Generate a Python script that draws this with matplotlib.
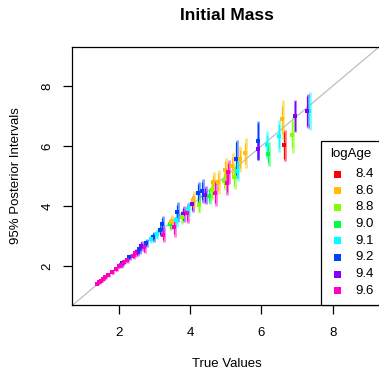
#!/usr/bin/env python3
"""Posterior intervals vs. true initial mass, coloured by logAge."""
import matplotlib
matplotlib.use('Agg')
import matplotlib.pyplot as plt
from matplotlib.patches import Rectangle

plt.rcParams['font.family'] = ['Liberation Sans', 'DejaVu Sans']

# logAge groups and their colours (R rainbow(8))
age_labels = ['8.4', '8.6', '8.8', '9.0', '9.1', '9.2', '9.4', '9.6']
age_colors = ['#FF0000', '#FFBF00', '#80FF00', '#00FF40',
              '#00FFFF', '#0040FF', '#8000FF', '#FF00BF']

# one entry per star
true_mass = [7.35, 7.29, 6.93, 6.86, 6.59, 6.63, 6.48, 6.19, 6.15, 5.89,
             5.89, 5.54, 5.39, 5.29, 5.17, 5.31, 5.23, 4.99, 4.95, 5.02,
             4.78, 4.69, 4.65, 4.53, 4.60, 4.34, 4.42, 4.23, 4.06, 4.24,
             4.09, 3.91, 3.80, 3.64, 3.76, 3.94, 3.55, 3.43, 3.46, 3.21,
             3.15, 3.23, 3.06, 2.96, 2.89, 2.76, 2.71, 2.62, 2.56, 2.51,
             2.45, 2.39, 2.29, 2.22, 2.08, 2.01, 1.91, 1.80, 1.69, 1.56,
             1.45, 1.39, 5.06, 1.62, 1.50, 2.15, 2.05, 3.60]
post_median = [7.17, 7.17, 6.99, 6.37, 6.90, 6.03, 6.33, 5.73, 6.03, 6.18,
               5.90, 5.76, 5.57, 5.57, 5.34, 5.18, 4.96, 5.20, 4.85, 4.76,
               4.79, 4.44, 4.79, 4.34, 4.53, 4.51, 4.37, 4.42, 4.06, 4.03,
               4.19, 3.76, 3.74, 3.80, 3.64, 3.91, 3.31, 3.40, 3.48, 3.39,
               3.20, 3.03, 3.06, 2.98, 2.89, 2.77, 2.62, 2.68, 2.56, 2.48,
               2.43, 2.34, 2.31, 2.19, 2.09, 2.00, 1.90, 1.79, 1.70, 1.56,
               1.46, 1.41, 5.12, 1.62, 1.51, 2.14, 2.03, 3.55]
half95 = [0.63, 0.57, 0.53, 0.60, 0.65, 0.52, 0.53, 0.40, 0.47, 0.65,
          0.37, 0.50, 0.43, 0.63, 0.43, 0.35, 0.40, 0.40, 0.33, 0.40,
          0.40, 0.43, 0.33, 0.27, 0.33, 0.40, 0.30, 0.37, 0.27, 0.27,
          0.30, 0.33, 0.27, 0.33, 0.23, 0.23, 0.33, 0.20, 0.23, 0.27,
          0.20, 0.23, 0.17, 0.17, 0.13, 0.13, 0.20, 0.17, 0.17, 0.13,
          0.13, 0.10, 0.10, 0.10, 0.10, 0.08, 0.07, 0.07, 0.06, 0.05,
          0.05, 0.05, 0.40, 0.05, 0.05, 0.08, 0.08, 0.25]
half68 = [0.45, 0.50, 0.50, 0.45, 0.45, 0.45, 0.40, 0.30, 0.35, 0.60,
          0.30, 0.35, 0.30, 0.55, 0.30, 0.25, 0.30, 0.30, 0.25, 0.30,
          0.30, 0.35, 0.25, 0.20, 0.25, 0.30, 0.22, 0.30, 0.20, 0.20,
          0.22, 0.25, 0.20, 0.25, 0.17, 0.17, 0.25, 0.15, 0.17, 0.20,
          0.15, 0.17, 0.12, 0.12, 0.10, 0.10, 0.15, 0.12, 0.12, 0.10,
          0.10, 0.07, 0.07, 0.07, 0.07, 0.06, 0.05, 0.05, 0.04, 0.04,
          0.04, 0.04, 0.30, 0.04, 0.04, 0.06, 0.06, 0.18]
log_age = ['9.1', '9.4', '9.4', '8.8', '8.6', '8.4', '9.1', '9.0', '9.1', '9.2',
           '9.4', '8.6', '8.6', '9.2', '8.6', '9.1', '8.8', '8.6', '8.8', '9.6',
           '8.6', '9.6', '8.6', '9.0', '8.8', '9.2', '9.4', '9.2', '9.4', '8.8',
           '8.6', '9.6', '9.4', '9.2', '8.8', '9.1', '9.6', '9.0', '8.6', '9.2',
           '9.2', '9.6', '9.1', '9.2', '9.1', '9.2', '9.6', '9.4', '9.2', '9.4',
           '9.6', '9.6', '9.2', '9.6', '9.2', '9.6', '9.6', '9.6', '9.6', '9.6',
           '9.6', '9.6', '9.6', '9.6', '9.6', '9.6', '9.6', '9.1']


def main():
    fig = plt.figure(figsize=(3.79, 3.69), dpi=100)
    ax = fig.add_axes([0.1908, 0.1734, 0.8137, 0.700])

    ax.axline((0, 0), slope=1, color='#BEBEBE', lw=0.9, zorder=1)

    for x, y, h95, h68, age in zip(true_mass, post_median, half95, half68, log_age):
        col = age_colors[age_labels.index(age)]
        ax.plot([x + 0.02, x + 0.02], [y - h95, y + h95], color=col, lw=2.0,
                alpha=0.5, solid_capstyle='butt', zorder=2)
        ax.plot([x, x], [y - h68, y + h68], color=col, lw=0.9,
                solid_capstyle='butt', zorder=3)
        ax.plot(x, y, 's', color=col, ms=2.2, mew=0, zorder=4)

    ax.set_xlim(0.688, 9.35)
    ax.set_ylim(0.70, 9.31)
    ax.set_xticks([2, 4, 6, 8])
    ax.set_yticks([2, 4, 6, 8])
    ax.tick_params(length=6.5, width=0.9, labelsize=9.5)
    ax.tick_params(axis='x', pad=9)
    ax.tick_params(axis='y', pad=7)
    for lab in ax.get_yticklabels():
        lab.set_rotation(90)
        lab.set_va('center')
    for sp in ax.spines.values():
        sp.set_linewidth(0.9)

    ax.set_xlabel('True Values', fontsize=9.5, labelpad=14)
    ax.set_ylabel('95% Posterior Intervals', fontsize=9.5, labelpad=14)
    ax.set_title('Initial Mass', fontsize=12.5, fontweight='bold', pad=19)

    # legend box, cut off at the right edge like the original
    fig.patches.append(Rectangle((321 / 379, (369 - 305) / 369), 0.3, (305 - 141) / 369,
                                 transform=fig.transFigure, fill=True, facecolor='white',
                                 edgecolor='black', lw=0.9, zorder=5))
    fig.text(351 / 379, 1 - 154 / 369, 'logAge', ha='center', va='center',
             fontsize=9.5, zorder=7)
    for i, (lab, col) in enumerate(zip(age_labels, age_colors)):
        yy = 1 - (174 + 16.7 * i) / 369
        fig.text(355 / 379, yy, lab, ha='left', va='center', fontsize=9.5, zorder=7)
        fig.patches.append(Rectangle((334 / 379, yy - 3.5 / 369), 7 / 379, 7 / 369,
                                     transform=fig.transFigure, facecolor=col,
                                     edgecolor='none', zorder=6))

    fig.savefig('out.png', dpi=100)
    plt.close(fig)


if __name__ == '__main__':
    main()
